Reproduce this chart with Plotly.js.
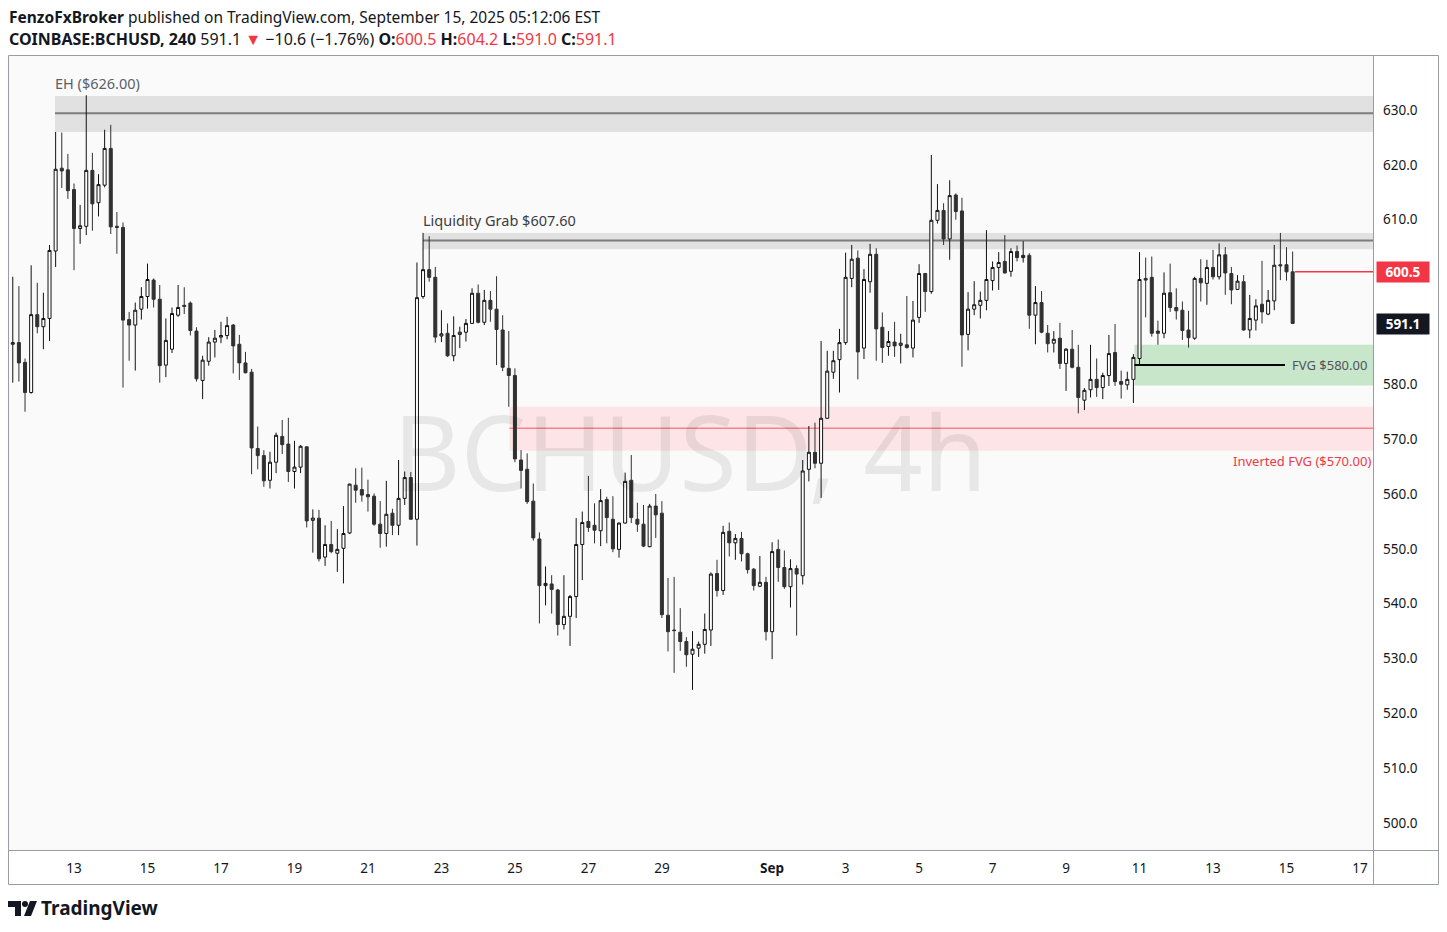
<!DOCTYPE html>
<html><head><meta charset="utf-8">
<script src="https://cdn.plot.ly/plotly-3.0.1.min.js"></script>
<style>html,body{margin:0;padding:0;background:#fff;}#chart{width:1447px;height:932px;}</style>
</head><body><div id="chart"></div>
<script>
// ---- data (4h candles, COINBASE:BCHUSD) ----
const firstCandle = '2025-08-11T08:00:00Z';
const candleHours = 4;
const openP = [
587.3,587.6,584.0,578.5,592.7,590.5,592.0,604.3,619.4,619.1,
615.5,608.4,608.8,619.0,613.1,616.3,623.0,608.8,608.6,591.8,
590.8,593.7,596.0,599.0,595.5,583.5,586.4,592.6,594.4,594.8,
589.7,580.7,584.2,587.7,588.6,588.9,590.8,587.3,583.9,582.2,
568.3,567.0,562.5,565.8,570.5,569.1,564.1,564.9,568.6,555.2,
555.6,548.5,550.8,549.2,550.1,552.9,561.6,560.8,559.9,559.6,
554.5,552.8,556.5,554.3,559.2,563.0,555.4,596.0,600.9,599.5,
588.8,589.3,585.2,589.1,589.5,591.1,596.6,591.3,595.3,593.7,
589.9,582.9,581.6,566.2,564.5,558.7,551.8,543.3,543.6,542.5,
536.2,537.7,541.3,550.8,555.0,554.3,553.3,559.0,555.4,549.9,
554.7,562.5,555.4,554.5,550.4,557.8,556.5,537.9,535.2,534.8,
533.1,530.8,531.9,532.6,535.2,545.5,542.4,553.2,551.1,551.9,
549.1,546.3,543.2,543.9,534.9,549.9,546.6,543.1,546.4,545.1,
564.5,567.6,565.6,573.8,582.2,584.5,587.6,599.3,603.0,586.6,
598.7,603.7,590.4,586.9,587.7,587.1,587.2,586.6,592.2,600.2,
596.9,609.9,611.7,606.5,614.5,611.6,589.1,593.7,594.4,595.3,
598.9,601.3,602.4,600.6,604.2,603.1,603.5,592.6,594.9,589.3,
587.5,588.4,583.8,586.4,583.1,577.1,579.0,580.9,579.4,581.6,
585.8,580.5,579.9,580.9,584.7,599.3,599.5,589.7,589.3,596.7,
594.0,593.5,589.9,588.4,599.3,598.4,601.3,599.6,603.6,600.2,
597.3,598.7,589.9,591.7,594.6,592.8,595.2,601.8,601.8,600.5];
const highP = [
599.6,597.9,584.7,601.7,598.5,596.7,605.4,626.0,625.9,622.0,
616.6,612.7,632.7,622.2,618.3,626.4,627.3,611.4,609.5,593.2,
594.9,597.7,602.0,599.3,598.1,592.0,594.0,598.1,597.7,595.1,
590.4,585.2,588.6,589.9,591.4,592.3,591.0,589.0,585.9,582.8,
572.3,568.0,567.7,571.2,573.5,573.9,569.7,568.9,568.7,557.2,
557.1,554.3,555.1,553.6,557.8,561.9,564.7,564.8,562.6,560.1,
558.7,562.4,557.3,566.2,564.1,564.0,602.2,607.6,607.0,601.4,
593.5,591.1,592.4,590.5,591.9,597.5,598.2,597.2,597.0,599.7,
592.6,589.7,582.9,568.0,567.4,561.9,553.0,546.8,545.2,542.7,
545.2,541.6,555.6,556.8,563.3,558.3,560.9,559.5,559.6,554.8,
563.9,567.1,558.4,558.0,558.2,560.0,558.7,544.7,544.9,539.2,
533.9,535.0,533.1,538.2,545.7,548.0,554.2,554.8,552.7,553.1,
549.3,546.5,548.7,544.9,551.2,551.7,549.7,548.1,547.0,566.2,
572.4,573.0,587.9,586.1,586.1,590.1,604.0,605.4,604.4,601.0,
605.6,604.8,593.1,589.7,591.4,589.2,596.1,595.2,601.9,600.3,
621.8,616.5,613.0,617.2,614.8,614.0,596.8,598.8,596.9,608.1,
602.4,604.1,607.2,604.8,605.3,606.1,603.9,597.9,597.0,590.8,
589.7,591.2,586.6,589.9,587.2,579.3,587.2,584.7,582.1,589.0,
591.0,582.5,582.3,585.5,604.1,603.1,603.3,591.6,600.4,602.0,
597.5,595.1,593.4,599.6,602.8,602.7,604.5,605.7,605.0,601.4,
599.9,599.9,596.3,595.5,602.5,597.2,605.4,607.6,605.0,604.2];
const lowP = [
580.3,580.5,575.0,578.3,589.3,586.4,587.9,601.4,615.8,613.8,
600.8,605.6,607.2,608.0,610.6,615.9,607.4,603.8,579.4,584.3,
582.5,591.8,593.8,594.0,580.3,581.3,585.7,592.3,592.8,588.9,
580.5,577.3,583.4,584.9,587.5,588.2,582.0,580.8,582.0,563.6,
564.5,561.3,561.0,563.8,567.3,562.2,561.0,563.8,553.9,549.3,
547.7,546.9,549.2,545.8,543.7,552.7,558.4,558.6,556.8,554.2,
550.2,550.4,552.5,552.5,558.0,555.3,550.6,595.6,598.7,587.6,
587.7,585.0,584.2,586.6,587.8,591.0,591.1,590.8,591.4,583.5,
582.4,575.9,565.8,561.0,558.2,551.5,536.4,539.7,538.2,534.2,
535.3,532.3,537.4,544.3,553.1,551.0,550.5,551.0,549.4,548.4,
554.6,554.7,553.1,550.3,550.3,552.0,537.4,531.3,527.4,531.4,
528.5,524.3,530.3,530.9,532.3,541.3,541.6,548.6,548.0,547.7,
545.5,542.4,543.0,533.3,529.9,544.0,542.7,539.3,534.2,543.5,
562.3,564.7,559.3,573.7,581.0,578.5,587.2,597.7,580.9,584.6,
596.7,584.3,583.9,585.2,585.0,583.8,586.5,584.9,591.2,593.2,
596.5,609.3,605.4,602.7,610.0,583.2,586.2,592.6,592.0,593.5,
597.1,597.2,600.2,599.6,602.4,602.2,590.1,587.3,589.3,585.8,
585.8,582.8,578.8,582.9,574.7,575.3,577.6,577.7,577.3,579.7,
579.7,577.4,579.0,576.6,583.5,592.2,588.7,587.2,588.4,593.2,
591.8,588.1,586.7,588.1,595.1,594.5,599.1,599.1,596.3,594.6,
597.2,589.8,588.4,589.8,591.1,592.6,593.5,599.0,598.9,591.0];
const closeP = [
587.6,583.9,578.5,592.7,590.5,592.0,604.4,619.2,618.9,615.3,
608.4,608.9,619.0,612.9,616.4,623.0,608.7,608.6,591.7,590.8,
593.5,596.0,599.1,595.5,583.4,588.0,592.9,594.0,594.2,589.8,
581.0,584.4,587.7,588.4,588.9,590.7,587.0,583.9,582.1,568.4,
567.0,562.4,565.8,570.7,569.0,564.1,564.9,568.7,555.1,555.6,
548.2,550.8,549.5,549.9,552.8,561.8,560.7,559.8,559.5,554.5,
552.8,556.3,554.3,559.2,563.0,555.4,595.8,600.9,599.5,588.6,
589.2,585.2,588.9,589.5,591.1,596.6,591.3,595.3,593.7,590.0,
583.1,581.6,566.4,564.3,558.6,552.0,543.3,543.7,542.6,536.2,
537.7,541.3,550.8,554.8,553.9,553.4,558.8,555.7,550.0,554.7,
562.3,555.7,554.5,550.5,557.8,556.2,538.0,534.9,535.1,533.1,
530.7,531.7,532.6,535.3,545.4,542.4,553.0,551.1,551.9,549.1,
546.2,543.3,543.9,534.9,549.5,546.6,543.1,546.4,545.4,564.2,
567.6,565.6,573.8,582.4,584.3,587.6,599.5,602.8,585.9,599.1,
603.7,590.1,586.7,587.8,587.0,587.5,586.7,591.7,600.2,596.9,
609.9,611.7,606.5,614.4,611.5,589.0,593.7,594.5,595.3,599.1,
601.3,602.2,600.3,604.2,603.1,603.5,592.6,594.9,589.5,587.4,
588.2,583.8,586.4,583.1,577.6,578.9,580.9,579.4,581.6,585.6,
580.5,580.0,580.9,584.9,599.1,599.0,589.3,589.3,596.6,594.0,
593.4,589.8,588.5,599.3,598.5,601.3,599.6,603.6,600.3,597.2,
598.8,589.9,592.0,594.3,593.2,595.3,601.7,601.6,600.5,591.1];

const xTickDates = ['2025-08-13','2025-08-15','2025-08-17','2025-08-19','2025-08-21','2025-08-23','2025-08-25','2025-08-27','2025-08-29','2025-09-01','2025-09-03','2025-09-05','2025-09-07','2025-09-09','2025-09-11','2025-09-13','2025-09-15','2025-09-17'];
const xTickLabels = ['13','15','17','19','21','23','25','27','29','<b>Sep</b>','3','5','7','9','11','13','15','17'];
// 600.0 and 590.0 are hidden behind the price boxes in the reference
const yTickValues = [500,510,520,530,540,550,560,570,580,610,620,630];

// zones / levels
const ehZone = [626.0, 632.55], ehLine = 629.4;
const lgZone = [604.6, 607.6], lgLine = 606.2;
const invZone = [567.9, 575.9], invLine = 572.0;
const fvgZone = [579.8, 587.2], fvgLine = 583.5;
const lastOpen = 600.5, lastClose = 591.1;

// ---- build ----
const t0 = Date.parse(firstCandle);
const dates = openP.map((_, i) => new Date(t0 + i * candleHours * 3600e3).toISOString().slice(0,16).replace('T',' '));

const PL = 9, PR = 1373, PT = 56, PB = 850;
const px = x => (x - PL) / (PR - PL);
const py = y => (PB - y) / (PB - PT);
const FONT = 'Noto Sans, sans-serif';
const xEnd = '2025-09-17 08:30';

const trace = {
  type: 'candlestick', x: dates, open: openP, high: highP, low: lowP, close: closeP,
  increasing: {line: {color: '#111111', width: 1}, fillcolor: '#ffffff'},
  decreasing: {line: {color: '#303030', width: 1}, fillcolor: '#303030'},
  whiskerwidth: 0, hoverinfo: 'skip', showlegend: false
};

const shapes = [
  {type:'rect', xref:'x', yref:'y', x0:'2025-08-12 11:36', x1:xEnd, y0:ehZone[0], y1:ehZone[1], fillcolor:'#e1e1e1', line:{width:0}, layer:'below'},
  {type:'line', xref:'x', yref:'y', x0:'2025-08-12 11:36', x1:xEnd, y0:ehLine, y1:ehLine, line:{color:'#7d7d7d', width:2}, layer:'below'},
  {type:'rect', xref:'x', yref:'y', x0:'2025-08-22 12:00', x1:xEnd, y0:lgZone[0], y1:lgZone[1], fillcolor:'#e1e1e1', line:{width:0}, layer:'below'},
  {type:'line', xref:'x', yref:'y', x0:'2025-08-22 12:00', x1:xEnd, y0:lgLine, y1:lgLine, line:{color:'#7d7d7d', width:2}, layer:'below'},
  {type:'rect', xref:'x', yref:'y', x0:'2025-08-24 20:30', x1:xEnd, y0:invZone[0], y1:invZone[1], fillcolor:'#fde4e6', line:{width:0}, layer:'below'},
  {type:'line', xref:'x', yref:'y', x0:'2025-08-24 20:30', x1:xEnd, y0:invLine, y1:invLine, line:{color:'#f3838c', width:1.5}, layer:'below'},
  {type:'rect', xref:'x', yref:'y', x0:'2025-09-10 20:40', x1:xEnd, y0:fvgZone[0], y1:fvgZone[1], fillcolor:'#c8e6c9', line:{width:0}, layer:'below'},
  {type:'line', xref:'x', yref:'y', x0:'2025-09-10 20:40', x1:'2025-09-14 23:00', y0:fvgLine, y1:fvgLine, line:{color:'#000000', width:2}, layer:'above'},
  {type:'line', xref:'x', yref:'y', x0:'2025-09-15 05:30', x1:xEnd, y0:lastOpen, y1:lastOpen, line:{color:'#f23645', width:1.5}, layer:'above'},
  // frame
  {type:'rect', xref:'paper', yref:'paper', x0:px(8.5), x1:px(1438.5), y0:py(884.5), y1:py(55.5), line:{color:'#9a9ca3', width:1}, fillcolor:'rgba(0,0,0,0)', layer:'above'},
  {type:'line', xref:'paper', yref:'paper', x0:px(1373.5), x1:px(1373.5), y0:py(884.5), y1:py(55.5), line:{color:'#9a9ca3', width:1}, layer:'above'},
  {type:'line', xref:'paper', yref:'paper', x0:px(8.5), x1:px(1438.5), y0:py(850.5), y1:py(850.5), line:{color:'#9a9ca3', width:1}, layer:'above'},
  // TradingView logo mark
  {type:'path', xref:'paper', yref:'paper', path:`M ${px(8)} ${py(901)} L ${px(21)} ${py(901)} L ${px(21)} ${py(916)} L ${px(15)} ${py(916)} L ${px(15)} ${py(907)} L ${px(8)} ${py(907)} Z`, fillcolor:'#131722', line:{width:0}},
  {type:'circle', xref:'paper', yref:'paper', x0:px(22), x1:px(28), y0:py(907), y1:py(901), fillcolor:'#131722', line:{width:0}},
  {type:'path', xref:'paper', yref:'paper', path:`M ${px(30)} ${py(901)} L ${px(37)} ${py(901)} L ${px(31)} ${py(916)} L ${px(24)} ${py(916)} Z`, fillcolor:'#131722', line:{width:0}}
];

const red = '#f23645';
const ann = (text, x, y, opts) => Object.assign({text, xref:'paper', yref:'paper', x:px(x), y:py(y), showarrow:false, xanchor:'left', yanchor:'middle', font:{family:FONT, size:14, color:'#131722'}}, opts||{});

const annotations = [
  ann('BCHUSD, 4h', 690, 450, {xanchor:'center', font:{family:FONT, size:104, color:'rgba(0,0,0,0.075)'}}),
  ann('<b>FenzoFxBroker</b> published on TradingView.com, September 15, 2025 05:12:06 EST', 7, 17, {font:{family:FONT, size:15.5, color:'#131722'}}),
  ann(`<b>COINBASE:BCHUSD, 240</b> 591.1 <span style="color:${red}">▼</span> −10.6 (−1.76%) <b>O:</b><span style="color:${red}">600.5</span> <b>H:</b><span style="color:${red}">604.2</span> <b>L:</b><span style="color:${red}">591.0</span> <b>C:</b><span style="color:${red}">591.1</span>`, 7, 39, {font:{family:FONT, size:16, color:'#131722'}}),
  ann('EH ($626.00)', 53, 83, {font:{family:FONT, size:14.5, color:'#5d606b'}}),
  ann('Liquidity Grab $607.60', 421, 220, {font:{family:FONT, size:14.5, color:'#3a3d45'}}),
  ann('FVG $580.00', 1369, 365, {xanchor:'right', font:{family:FONT, size:13, color:'#50535e'}}),
  ann('Inverted FVG ($570.00)', 1373, 461, {xanchor:'right', font:{family:FONT, size:13, color:red}}),
  ann('<b>600.5</b>', 1403, 272, {xanchor:'center', bgcolor:red, width:52, height:20, borderpad:0, font:{family:FONT, size:13.5, color:'#ffffff'}}),
  ann('<b>591.1</b>', 1403, 324, {xanchor:'center', bgcolor:'#131722', width:52, height:20, borderpad:0, font:{family:FONT, size:13.5, color:'#ffffff'}}),
  ann('<b>TradingView</b>', 39, 908, {font:{family:FONT, size:19, color:'#131722'}})
];

const layout = {
  width: 1447, height: 932,
  margin: {l: PL, r: 1447 - PR, t: PT, b: 932 - PB, pad: 0},
  paper_bgcolor: '#ffffff', plot_bgcolor: '#fafafa',
  showlegend: false, dragmode: false,
  xaxis: {type:'date', range:['2025-08-11 05:32', xEnd], tickvals:xTickDates, ticktext:xTickLabels,
    showgrid:false, zeroline:false, showline:false, ticks:'', ticklabelstandoff:8,
    tickfont:{family:FONT, size:13.5, color:'#131722'}, rangeslider:{visible:false}, fixedrange:true},
  yaxis: {side:'right', range:[495.1, 639.85], tickvals:yTickValues, tickformat:'.1f',
    showgrid:false, zeroline:false, showline:false, ticks:'', ticklabelstandoff:9,
    tickfont:{family:FONT, size:13.5, color:'#131722'}, fixedrange:true},
  shapes, annotations
};

Plotly.newPlot('chart', [trace], layout, {displayModeBar:false, staticPlot:true});
</script></body></html>
